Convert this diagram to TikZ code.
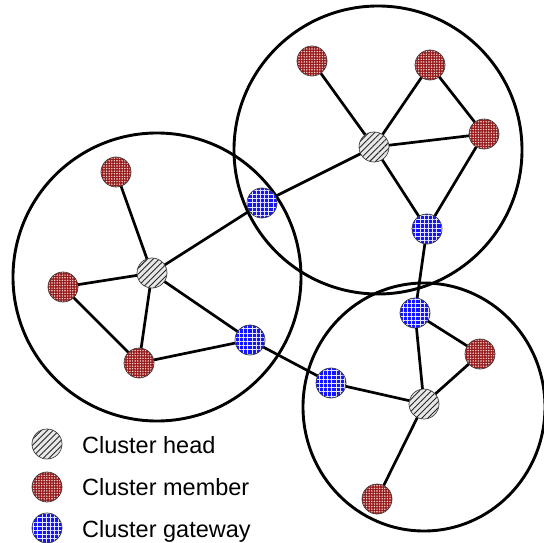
\documentclass[tikz,border=0pt]{standalone}
\usepackage{fontspec}
\setmainfont{Liberation Sans}
\usetikzlibrary{patterns.meta}

\definecolor{memberred}{RGB}{150,28,28}
\definecolor{gatewayblue}{RGB}{20,20,255}

\tikzset{
  cluster/.style={draw=black, line width=2.9pt},
  link/.style={draw=black, line width=2.7pt},
  dev/.style={circle, minimum size=30pt, inner sep=0pt, draw=black!75, line width=0.7pt},
  head/.style={dev, preaction={fill=gray!18},
    pattern={Lines[angle=45, distance=4.2pt, line width=0.9pt]}, pattern color=black!85},
  member/.style={dev, preaction={fill=memberred},
    pattern={Dots[distance=2.6pt, radius=0.8pt]}, pattern color=white!85!red},
  gateway/.style={dev, preaction={fill=gatewayblue},
    pattern={Hatch[angle=0, distance=4.2pt, line width=0.75pt]}, pattern color=white!90!blue},
  legendtext/.style={anchor=base west, inner sep=0pt, font=\fontsize{23.5}{28}\selectfont}
}

\begin{document}
\begin{tikzpicture}[x=1pt, y=-1pt]
\useasboundingbox (0,0) rectangle (544,543);

% cluster ranges
\draw[cluster] (157,277) circle (144);
\draw[cluster] (378,150) circle (144);
\draw[cluster] (424,407) ellipse [x radius=121, y radius=124];

% node positions
\coordinate (pA)  at (152,273);
\coordinate (pA1) at (116,172);
\coordinate (pA2) at (63,287);
\coordinate (pA3) at (139,363);
\coordinate (pG1) at (262,203);
\coordinate (pG2) at (250,340);
\coordinate (pB)  at (374,147);
\coordinate (pB1) at (312,61);
\coordinate (pB2) at (430,65);
\coordinate (pB3) at (484,134);
\coordinate (pG3) at (427,229);
\coordinate (pG4) at (415,313);
\coordinate (pC)  at (424,404);
\coordinate (pC1) at (480,354);
\coordinate (pC2) at (377,499);
\coordinate (pG5) at (331,383);

% links (drawn first, nodes cover their ends)
\draw[link] (pA) -- (pA1);
\draw[link] (pA) -- (pA2);
\draw[link] (pA) -- (pA3);
\draw[link] (pA2) -- (pA3);
\draw[link] (pA3) -- (pG2);
\draw[link] (pA) -- (pG2);
\draw[link] (pA) -- (pG1);
\draw[link] (pG1) -- (pB);
\draw[link] (pB) -- (pB1);
\draw[link] (pB) -- (pB2);
\draw[link] (pB) -- (pB3);
\draw[link] (pB2) -- (pB3);
\draw[link] (pB) -- (pG3);
\draw[link] (pB3) -- (pG3);
\draw[link] (pG3) -- (pG4);
\draw[link] (pG4) -- (pC1);
\draw[link] (pG4) -- (pC);
\draw[link] (pC) -- (pC1);
\draw[link] (pC) -- (pG5);
\draw[link] (pC) -- (pC2);
\draw[link] (pG5) -- (pG2);

% devices
\node[head] (A) at (pA) {};
\node[member] (A1) at (pA1) {};
\node[member] (A2) at (pA2) {};
\node[member] (A3) at (pA3) {};
\node[gateway] (G1) at (pG1) {};
\node[gateway] (G2) at (pG2) {};
\node[head] (B) at (pB) {};
\node[member] (B1) at (pB1) {};
\node[member] (B2) at (pB2) {};
\node[member] (B3) at (pB3) {};
\node[gateway] (G3) at (pG3) {};
\node[gateway] (G4) at (pG4) {};
\node[head] (C) at (pC) {};
\node[member] (C1) at (pC1) {};
\node[member] (C2) at (pC2) {};
\node[gateway] (G5) at (pG5) {};

% legend
\node[head] (LH) at (47,444) {};
\node[member] (LM) at (47,487) {};
\node[gateway] (LG) at (47,528) {};
\node[legendtext] (TH) at (82,453) {Cluster head};
\node[legendtext] (TM) at (82,495) {Cluster member};
\node[legendtext] (TG) at (82,537) {Cluster gateway};
\end{tikzpicture}
\end{document}
